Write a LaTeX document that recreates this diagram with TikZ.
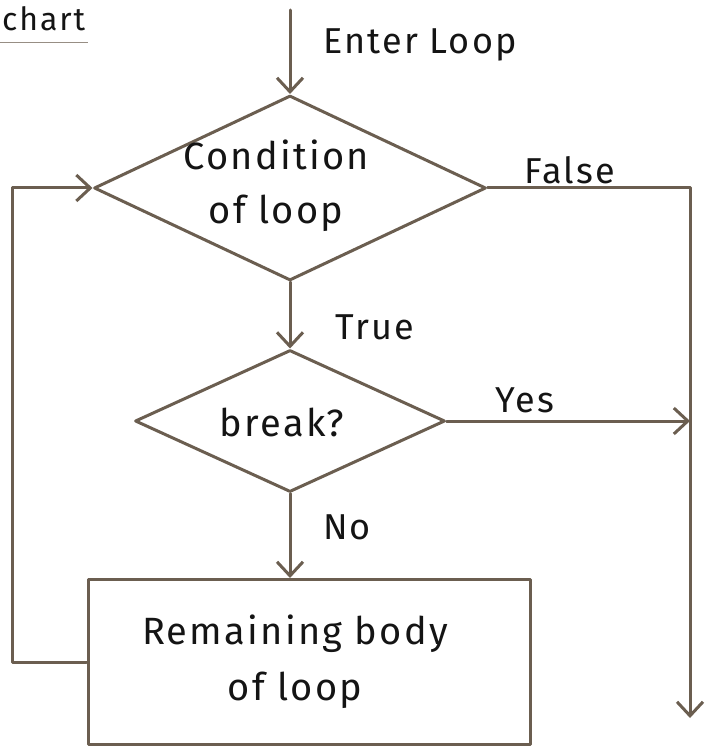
\documentclass[tikz,border=0pt]{standalone}
\usepackage{fontspec}
\setmainfont{Fira Sans}[LetterSpace=6]
\usetikzlibrary{shapes.geometric,arrows.meta}
\definecolor{pencil}{HTML}{6B5E50}
\definecolor{ink}{HTML}{141414}
\begin{document}
\begin{tikzpicture}[x=1pt,y=-1pt,
  line/.style={draw=pencil,line width=3pt,line cap=round,line join=round},
  flow/.style={line,-{Straight Barb[length=14pt,width=26pt,line width=3pt]}},
  decision/.style={line,diamond,inner sep=0pt},
  process/.style={line,rectangle,inner sep=0pt},
  txt/.style={text=ink,font=\fontsize{38}{44}\selectfont,inner sep=0pt,align=center},
  lbl/.style={text=ink,font=\fontsize{36}{42}\selectfont,inner sep=0pt}]
\useasboundingbox (0,0) rectangle (712,751);
\fill[white] (0,0) rectangle (712,751);

% page heading with its underline
\node[txt,anchor=base west,font=\fontsize{32}{38}\selectfont] (head) at (2,31) {chart};
\draw[draw=pencil!70,line width=1pt] (0,43) -- (88,43);

% shapes
\node[decision,minimum width=392pt,minimum height=185pt] (cond) at (290,188) {};
\node[txt] (condt) at (276,186) {Condition\\[10pt]of loop};
\node[decision,minimum width=310pt,minimum height=142pt] (brk) at (290,421) {};
\node[txt] (brkt) at (282,422) {break?};
\node[process,minimum width=442pt,minimum height=165pt] (body) at (309,662) {};
\node[txt] (bodyt) at (295,662) {Remaining body\\[12pt]of loop};

% free ends of the connectors
\coordinate (enter) at (cond.north |- 0,10);
\coordinate (corner) at (690,188);
\coordinate (exit) at (690,718);
\coordinate (back) at (12,662);

% connectors
\draw[flow] (enter) -- (cond.north);
\draw[flow] (cond.east) -- (corner) -- (exit);
\draw[flow] (cond.south) -- (brk.north);
\draw[flow] (brk.east) -- (brk.east -| exit);
\draw[flow] (brk.south) -- (brk.south |- body.north);
\draw[flow] (body.west) -- (back) |- (cond.west);

% labels
\node[lbl] (lenter) at (420,45) {Enter Loop};
\node[lbl] (lfalse) at (570,170) {False};
\node[lbl] (ltrue) at (375,327) {True};
\node[lbl] (lyes) at (525,400) {Yes};
\node[lbl] (lno) at (347,527) {No};
\end{tikzpicture}
\end{document}
